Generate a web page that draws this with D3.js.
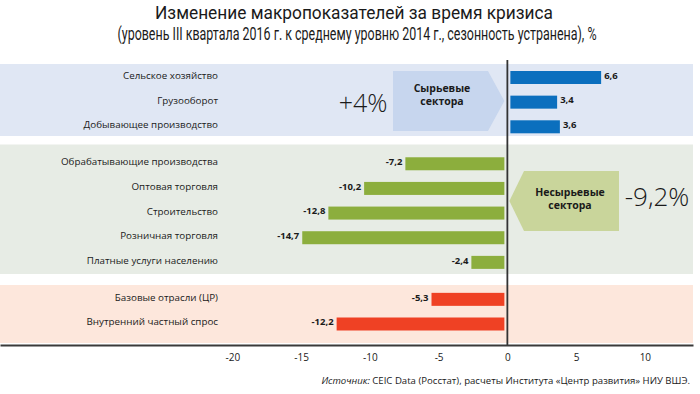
<!DOCTYPE html>
<html>
<head>
<meta charset="utf-8">
<script src="https://cdn.jsdelivr.net/npm/d3@7"></script>
<style>
  body { margin: 0; background: #fff; }
  svg text { font-family: "Open Sans", "Noto Sans", sans-serif; fill: #1a1a1a; }
</style>
</head>
<body>
<svg width="700" height="394"></svg>
<script>

// data
var categories = ["Сельское хозяйство", "Грузооборот", "Добывающее производство",
    "Обрабатывающие производства", "Оптовая торговля", "Строительство",
    "Розничная торговля", "Платные услуги населению",
    "Базовые отрасли (ЦР)", "Внутренний частный спрос"]
var values = [6.6, 3.4, 3.6, -7.2, -10.2, -12.8, -14.7, -2.4, -5.3, -12.2]
var groupOf = [0, 0, 0, 1, 1, 1, 1, 1, 2, 2]
var groupNames = [["Сырьевые", "сектора"], ["Несырьевые", "сектора"]]
var groupTotals = ["+4%", "-9,2%"]
var xTicks = [-20, -15, -10, -5, 0, 5, 10]

var barColors = ["#0b6fbe", "#8cae3d", "#ef4124"]
var bandColors = ["#e0e7f4", "#e7ece5", "#fde7dc"]
var arrowColors = ["#c7d6ee", "#c9d59b"]

var svg = d3.select("svg")

var x = d3.scaleLinear().domain([-36.9, 13.5]).range([0, 693])
// row position: index plus half a row of space between groups
function pos(i) { return i + groupOf[i] * 0.5 }
var y = d3.scaleLinear().domain([0, 10]).range([77.5, 324])

var bandTop = [64, 144.5, 285]
var bandBottom = [136, 274, 343]

// russian style numbers: comma decimal, plain hyphen for minus
function fmt(d) { return String(d).replace(".", ",") }

// title (source font is condensed, so squeeze to the measured width)
var titleLines = [
    { t: "Изменение макропоказателей за время кризиса", x: 354, y: 19, w: 398 },
    { t: "(уровень III квартала 2016 г. к среднему уровню 2014 г., сезонность устранена), %", x: 357, y: 40, w: 479 }
]
svg.append("g").selectAll("text")
    .data(titleLines)
    .enter().append("text")
    .attr("x", function (d) { return d.x })
    .attr("y", function (d) { return d.y })
    .attr("text-anchor", "middle")
    .attr("textLength", function (d) { return d.w })
    .attr("lengthAdjust", "spacingAndGlyphs")
    .style("font-family", "Roboto, 'Open Sans', sans-serif")
    .style("font-size", "17.5px")
    .text(function (d) { return d.t })

// background bands
svg.append("g").selectAll("rect")
    .data(bandTop)
    .enter().append("rect")
    .attr("x", x.range()[0])
    .attr("width", x.range()[1] - x.range()[0])
    .attr("y", function (d) { return d })
    .attr("height", function (d, i) { return bandBottom[i] - d })
    .attr("fill", function (d, i) { return bandColors[i] })

// sector arrows
var x0 = x(0)
var arrowBlue = [[393, 71], [488, 71], [x0 - 3, 101], [488, 131], [393, 131]]
var arrowGreen = [[619, 171], [524, 171], [x0 + 2, 201], [524, 231], [619, 231]]
svg.append("polygon")
    .attr("points", arrowBlue.join(" "))
    .attr("fill", arrowColors[0])
svg.append("polygon")
    .attr("points", arrowGreen.join(" "))
    .attr("fill", arrowColors[1])

var arrowText = [[442, 92], [570, 196]]
arrowText.forEach(function (p, k) {
    var t = svg.append("text")
        .attr("x", p[0]).attr("y", p[1])
        .attr("text-anchor", "middle")
        .style("font-size", "10.5px")
        .style("font-weight", "bold")
    t.append("tspan").attr("x", p[0]).text(groupNames[k][0])
    t.append("tspan").attr("x", p[0]).attr("dy", 13).text(groupNames[k][1])
})

svg.append("text")
    .attr("x", 363).attr("y", 112)
    .attr("text-anchor", "middle")
    .style("font-size", "25px")
    .style("font-weight", 300)
    .text(groupTotals[0])
svg.append("text")
    .attr("x", 657).attr("y", 206)
    .attr("text-anchor", "middle")
    .style("font-size", "26px")
    .style("font-weight", 300)
    .text(groupTotals[1])

// bars
var gap = 3
svg.append("g").selectAll("rect")
    .data(values)
    .enter().append("rect")
    .attr("x", function (d) { return d >= 0 ? x(0) + gap : x(d) - gap })
    .attr("width", function (d) { return Math.abs(x(d) - x(0)) })
    .attr("y", function (d, i) { return y(pos(i)) - 6.5 })
    .attr("height", 13)
    .attr("fill", function (d, i) { return barColors[groupOf[i]] })

// value labels
svg.append("g").selectAll("text")
    .data(values)
    .enter().append("text")
    .attr("x", function (d) { return d >= 0 ? x(d) + gap + 3 : x(d) - gap - 3 })
    .attr("y", function (d, i) { return y(pos(i)) - 2 })
    .attr("dy", "0.35em")
    .attr("text-anchor", function (d) { return d >= 0 ? "start" : "end" })
    .style("font-size", "9.5px")
    .style("font-weight", "bold")
    .text(fmt)

// category labels
svg.append("g").selectAll("text")
    .data(categories)
    .enter().append("text")
    .attr("x", 218)
    .attr("y", function (d, i) { return y(pos(i)) - 2 })
    .attr("dy", "0.35em")
    .attr("text-anchor", "end")
    .style("font-size", "9.8px")
    .text(function (d) { return d })

// zero line
svg.append("line")
    .attr("x1", x(0)).attr("x2", x(0))
    .attr("y1", 60).attr("y2", 345)
    .attr("stroke", "#333")
    .attr("stroke-width", 1.8)

// x axis
var axis = svg.append("g")
    .attr("transform", "translate(0,345)")
    .call(d3.axisBottom(x).tickValues(xTicks).tickFormat(fmt).tickSize(0).tickPadding(9))
axis.select(".domain").attr("stroke", "#3a3a3a").attr("stroke-width", 1.8)
axis.selectAll("text")
    .style("font-family", "'Open Sans', sans-serif")
    .style("font-size", "10px")
    .attr("fill", "#1a1a1a")

// source
var src = svg.append("text")
    .attr("x", 690).attr("y", 384)
    .attr("text-anchor", "end")
    .style("font-size", "9.6px")
src.append("tspan").style("font-style", "italic").text("Источник:")
src.append("tspan").text("  CEIC Data (Росстат), расчеты Института «Центр развития» НИУ ВШЭ.")

</script>
</body>
</html>
